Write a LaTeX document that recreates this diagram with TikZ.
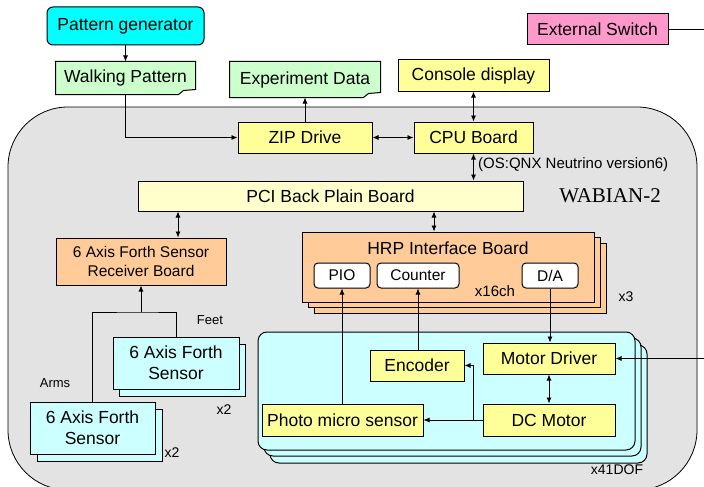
\documentclass[tikz,border=0pt]{standalone}
\usepackage{fontspec}
\setmainfont{Liberation Sans}
\newfontfamily\wabfont{Liberation Serif}
\usepackage{xcolor}
\definecolor{wbcyan}{HTML}{00FFFF}
\definecolor{wbnote}{HTML}{CCFFCC}
\definecolor{wbyel}{HTML}{FFFF99}
\definecolor{wbpale}{HTML}{FFFFCC}
\definecolor{wborange}{HTML}{FFCC99}
\definecolor{wbpink}{HTML}{FF99CC}
\definecolor{wblcyan}{HTML}{CCFFFF}
\definecolor{wbgray}{HTML}{E3E3E3}
\usetikzlibrary{arrows.meta,shadows,backgrounds}

\begin{document}
\begin{tikzpicture}[x=1pt,y=-1pt,>={Latex[length=6pt,width=5pt]}]
\tikzset{
 b/.style={draw=black,line width=1pt,fill=wbyel,inner sep=0pt,font=\fontsize{17.5}{21}\selectfont},
 s/.style={b,font=\fontsize{15.5}{19}\selectfont,align=center},
 t/.style={inner sep=0pt,font=\fontsize{14}{16}\selectfont},
 a/.style={->,line width=0.8pt},
 aa/.style={<->,line width=0.8pt}
}
\useasboundingbox (0,0) rectangle (704,487);
% robot body
\draw[fill=wbgray,rounded corners=60pt,line width=0.8pt] (8,107) rectangle (697,490);

% outside the robot
\node[b,fill=wbcyan,rounded corners=6pt,minimum width=157pt,minimum height=38pt] (pat) at (125.5,26) {Pattern generator};
\node[b,draw=none,fill=none,minimum width=139pt,minimum height=32pt] (walk) at (125.5,78) {Walking Pattern};
\node[b,draw=none,fill=none,minimum width=150pt,minimum height=35pt] (exp) at (305,79.5) {Experiment Data};
\node[b,minimum width=151pt,minimum height=31pt] (cons) at (473.5,75.5) {Console display};
\node[b,fill=wbpink,minimum width=141pt,minimum height=31pt] (sw) at (597.5,29.5) {External Switch};

% computer
\node[b,minimum width=134pt,minimum height=31pt] (zip) at (305,137.5) {ZIP Drive};
\node[b,minimum width=119pt,minimum height=31pt] (cpu) at (473.5,137.5) {CPU Board};
\node[b,fill=wbpale,minimum width=385pt,minimum height=30pt] (pci) at (330.5,196) {PCI Back Plain Board};
\node[t,anchor=west,font=\fontsize{15}{18}\selectfont] (qnx) at (478,165) {(OS:QNX Neutrino version6)};
\node[inner sep=0pt,font=\wabfont\fontsize{21}{24}\selectfont] (wab) at (610,196) {WABIAN-2};

% interface boards
\node[s,fill=wborange,minimum width=170pt,minimum height=47pt] (rcv) at (141,261.5) {6 Axis Forth Sensor\\Receiver Board};
\node[b,fill=wborange,minimum width=292pt,minimum height=70pt,
 copy shadow={shadow xshift=12pt,shadow yshift=-11pt},
 copy shadow={shadow xshift=6pt,shadow yshift=-5pt}] (hrp) at (448,267) {};
\node[inner sep=0pt,font=\fontsize{17.5}{21}\selectfont] (hrpt) at (448,248) {HRP Interface Board};
\node[s,fill=white,rounded corners=4pt,minimum width=56pt,minimum height=25pt] (pio) at (342,275.5) {PIO};
\node[s,fill=white,rounded corners=4pt,minimum width=82pt,minimum height=25pt] (cnt) at (418,275.5) {Counter};
\node[s,fill=white,rounded corners=4pt,minimum width=56pt,minimum height=25pt] (da) at (550,275.5) {D/A};
\node[t,font=\fontsize{15}{18}\selectfont] (ch) at (495,291) {x16ch};
\node[t] (n3) at (626,297) {x3};

% one joint
\node[b,fill=wblcyan,rounded corners=9pt,minimum width=377pt,minimum height=118pt,
 copy shadow={shadow xshift=12pt,shadow yshift=-13pt},
 copy shadow={shadow xshift=6pt,shadow yshift=-6pt}] (dof) at (446.5,391) {};
\node[t] (n41) at (617,470) {x41DOF};
\node[b,minimum width=94pt,minimum height=31pt] (enc) at (417,365.5) {Encoder};
\node[b,minimum width=132pt,minimum height=31pt] (md) at (549,358.5) {Motor Driver};
\node[b,minimum width=132pt,minimum height=32pt] (dcm) at (549,420) {DC Motor};
\node[b,minimum width=161pt,minimum height=32pt] (pms) at (342.5,420) {Photo micro sensor};

% force sensors
\node[b,fill=wblcyan,align=center,minimum width=126pt,minimum height=52pt,
 copy shadow={shadow xshift=6pt,shadow yshift=-7pt}] (feet) at (176,363) {6 Axis Forth\\Sensor};
\node[b,fill=wblcyan,align=center,minimum width=125pt,minimum height=52pt,
 copy shadow={shadow xshift=7pt,shadow yshift=-7pt}] (arms) at (92.5,428) {6 Axis Forth\\Sensor};
\node[t,font=\fontsize{13}{15}\selectfont] (lf) at (210,320) {Feet};
\node[t,font=\fontsize{13}{15}\selectfont] (la) at (55,383) {Arms};
\node[t] (nf) at (224,410) {x2};
\node[t] (na) at (172,453) {x2};

% note outlines
\begin{scope}[on background layer]
\foreach \m in {walk,exp}{
 \draw[fill=wbnote,line width=1pt] (\m.north west) -- (\m.north east) -- ([yshift=5pt]\m.south east)
  -- ([xshift=-12pt,yshift=4pt]\m.south east) -- ([xshift=-17pt]\m.south east) -- (\m.south west) -- cycle;
}
\end{scope}

% connections
\foreach \i/\j in {pat/walk,zip/exp,dcm/pms}{\draw[a] (\i)--(\j);}
\foreach \i/\j in {zip/cpu,cons/cpu,md/dcm}{\draw[aa] (\i)--(\j);}
\draw[a] (walk.south) |- (zip.west);
\draw[aa] (cpu.south) -- (cpu.south |- pci.north);
\draw[aa] ([xshift=37pt]rcv.north) -- ([xshift=37pt]rcv.north |- pci.south);
\draw[aa] ([xshift=-14pt]hrp.north) -- ([xshift=-14pt]hrp.north |- pci.south);
\draw[a] (da.south) -- (da.south |- md.north);
\draw[a] (cnt.south |- enc.north) -- (cnt.south);
\draw[a] (pio.south |- pms.north) -- (pio.south);
\coordinate (br) at ([xshift=-9pt]dcm.west);
\draw[a] (br) |- (enc.east);
\draw[a] (sw.east) -- ++(50,0) |- (md.east);
\coordinate (jn) at (141,312);
\draw[line width=0.8pt] (arms.north) |- (jn) -| (feet.north);
\draw[a] (jn) -- (rcv.south);
\end{tikzpicture}
\end{document}
